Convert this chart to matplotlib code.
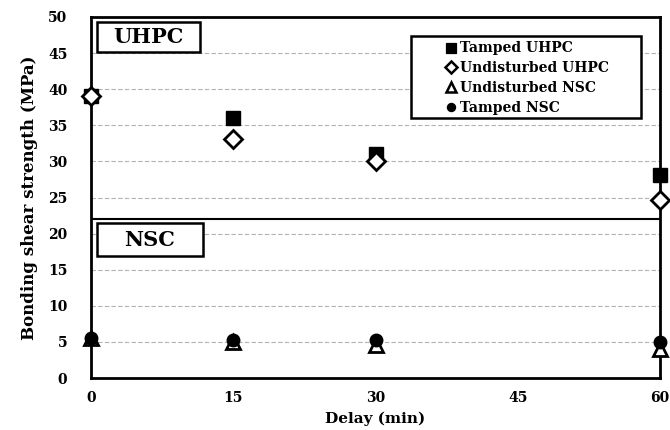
import matplotlib
matplotlib.use("Agg")
import matplotlib.pyplot as plt
from matplotlib.patches import Rectangle
from matplotlib.lines import Line2D

# ── Data ──────────────────────────────────────────────────────────────────────
delay_min        = [0, 15, 30, 60]
tamped_uhpc      = [39.0, 36.0, 31.0, 28.1]
undisturbed_uhpc = [39.0, 33.1, 30.0, 24.6]
undisturbed_nsc  = [5.6, 5.0, 4.6, 4.0]
tamped_nsc       = [5.5, 5.3, 5.2, 5.0]
x_ticks          = [0, 15, 30, 45, 60]
y_ticks          = [0, 5, 10, 15, 20, 25, 30, 35, 40, 45, 50]
split_level      = 22

plt.rcParams["font.family"] = ["DejaVu Serif"]
plt.rcParams["font.weight"] = "bold"

fig = plt.figure(figsize=(6.7, 4.3), dpi=100)
ax = fig.add_axes([91 / 670, 1 - 378 / 430, 569 / 670, 361 / 430])

ax.set_xlim(0, 60)
ax.set_ylim(0, 50)
ax.set_xticks(x_ticks)
ax.set_yticks(y_ticks)
ax.tick_params(length=0, labelsize=10)
ax.tick_params(axis="x", pad=9)
ax.tick_params(axis="y", pad=17)
for lbl in ax.get_xticklabels() + ax.get_yticklabels():
    lbl.set_fontweight("bold")

for y in y_ticks[1:-1]:
    ax.axhline(y, color="#b3b3b3", lw=0.8, ls=(0, (4, 2)), zorder=0)
ax.axhline(split_level, color="black", lw=1.5, zorder=1)

for sp in ax.spines.values():
    sp.set_linewidth(2)

# series styles (also reused for the legend)
styles = [
    ("Tamped UHPC",      tamped_uhpc,      dict(marker="s", ms=10, mfc="black", mec="black")),
    ("Undisturbed UHPC", undisturbed_uhpc, dict(marker="D", ms=9, mfc="white", mec="black", mew=2)),
    ("Undisturbed NSC",  undisturbed_nsc,  dict(marker="^", ms=10, mfc="white", mec="black", mew=2)),
    ("Tamped NSC",       tamped_nsc,       dict(marker="o", ms=9, mfc="black", mec="black")),
]
for name, vals, st in styles:
    ax.plot(delay_min, vals, ls="none", clip_on=False, zorder=3, label=name, **st)

# legend: fixed frame, entries inside it
ax.add_patch(Rectangle(((411 - 91) / 569, (378 - 118) / 361), 230 / 569, 82 / 361,
                       transform=ax.transAxes, fc="white", ec="black", lw=1.8, zorder=4))
handles = [Line2D([], [], ls="none", marker=st["marker"], ms=st["ms"] * 0.65,
                  mfc=st["mfc"], mec=st["mec"], mew=st.get("mew", 1) * 0.9)
           for _, _, st in styles]
leg = ax.legend(handles, [s[0] for s in styles], loc="upper left",
                bbox_to_anchor=((436 - 91) / 569, (378 - 31) / 361), frameon=False,
                handlelength=0.7, handletextpad=0.3, labelspacing=0.42, borderpad=0.25,
                prop={"weight": "bold", "size": 10})
leg.set_zorder(5)

# region tags
for label, x0, x1, y0, y1 in [("UHPC", 97, 200, 22, 52), ("NSC", 97, 203, 223, 256)]:
    ax.add_patch(Rectangle(((x0 - 91) / 569, (378 - y1) / 361), (x1 - x0) / 569, (y1 - y0) / 361,
                           transform=ax.transAxes, fc="white", ec="black", lw=1.8, zorder=4))
    ax.text(((x0 + x1) / 2 - 91) / 569, (378 - (y0 + y1) / 2) / 361, label,
            transform=ax.transAxes, ha="center", va="center",
            fontsize=15, fontweight="bold", zorder=5)

ax.set_xlabel("Delay (min)", fontsize=11, fontweight="bold", labelpad=5)
ax.set_ylabel("Bonding shear strength (MPa)", fontsize=12, fontweight="bold",
              labelpad=7)

fig.savefig("out.png", dpi=100)
